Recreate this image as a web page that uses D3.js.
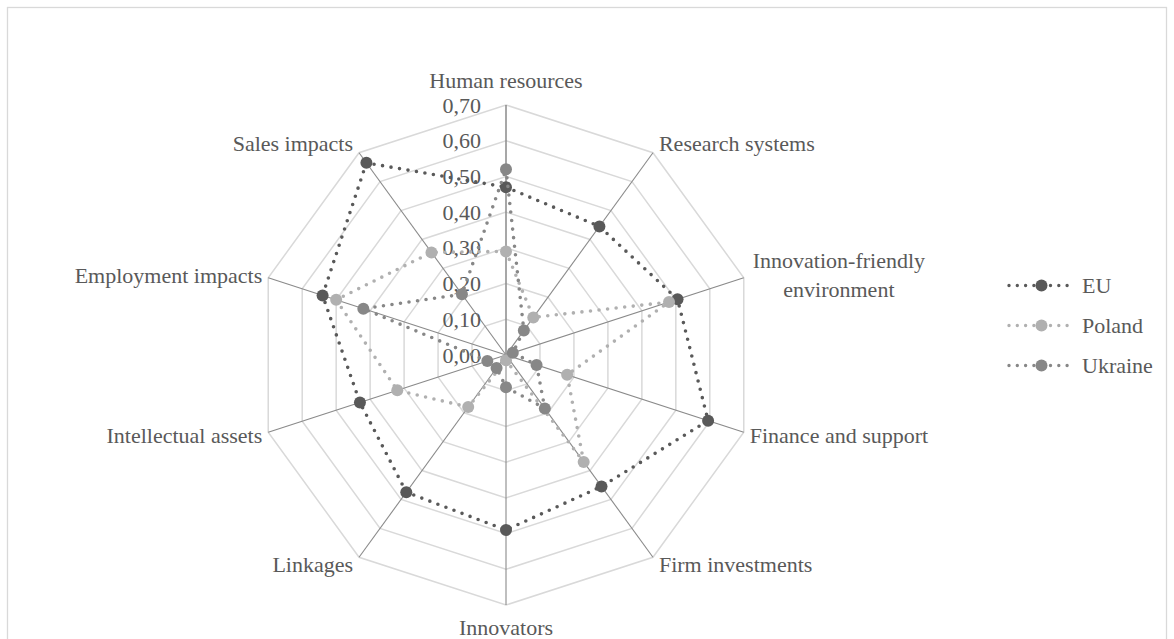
<!DOCTYPE html>
<html>
<head>
<meta charset="utf-8">
<script src="https://cdn.jsdelivr.net/npm/d3@7"></script>
<style>
  html, body { margin: 0; padding: 0; background: #fff; }
  svg { display: block; }
</style>
</head>
<body>
<svg id="chart" width="1174" height="639" font-family="'Liberation Serif', 'Times New Roman', 'DejaVu Serif', serif"></svg>
<script>
const categories = ["Human resources", "Research systems", "Innovation-friendly environment",
  "Finance and support", "Firm investments", "Innovators", "Linkages",
  "Intellectual assets", "Employment impacts", "Sales impacts"];
const seriesNames = ["EU", "Poland", "Ukraine"];
const euValues      = [0.47, 0.445, 0.505, 0.595, 0.455, 0.49, 0.475, 0.43, 0.54, 0.665];
const polandValues  = [0.29, 0.13, 0.48, 0.18, 0.37, 0.015, 0.18, 0.32, 0.50, 0.355];
const ukraineValues = [0.52, 0.085, 0.02, 0.09, 0.185, 0.09, 0.045, 0.055, 0.42, 0.21];
const tickValues = [0, 0.1, 0.2, 0.3, 0.4, 0.5, 0.6, 0.7];
const tickLabels = ["0,00", "0,10", "0,20", "0,30", "0,40", "0,50", "0,60", "0,70"];
const seriesColors = ["#595959", "#b0b0b0", "#878787"];

const series = [
  { name: seriesNames[0], values: euValues, color: seriesColors[0] },
  { name: seriesNames[1], values: polandValues, color: seriesColors[1] },
  { name: seriesNames[2], values: ukraineValues, color: seriesColors[2] }
];

const svg = d3.select("#chart");
const cx = 506, cy = 355, R = 250;
const fontSize = 22;
const textColor = "#595959";

// outer border
svg.append("rect").attr("x", 7.5).attr("y", 7.5).attr("width", 1159).attr("height", 650)
  .attr("fill", "none").attr("stroke", "#d9d9d9").attr("stroke-width", 1.3);

const r = d3.scaleLinear().domain([0, 0.7]).range([0, R]);
const angle = d3.scaleLinear().domain([0, categories.length]).range([0, 2 * Math.PI]);
const pt = (i, v) => [cx + r(v) * Math.sin(angle(i)), cy - r(v) * Math.cos(angle(i))];

const g = svg.append("g");

// grid rings
tickValues.filter(t => t > 0).forEach(t => {
  g.append("polygon")
    .attr("points", categories.map((c, i) => pt(i, t).join(",")).join(" "))
    .attr("fill", "none").attr("stroke", "#d9d9d9").attr("stroke-width", 1.5);
});

// spokes
categories.forEach((c, i) => {
  const [x, y] = pt(i, 0.7);
  g.append("line").attr("x1", cx).attr("y1", cy).attr("x2", x).attr("y2", y)
    .attr("stroke", "#8a8a8a").attr("stroke-width", i === 0 ? 1.5 : 1.1);
});

// tick labels
tickValues.forEach((t, k) => {
  g.append("text").attr("x", cx - 25).attr("y", cy - r(t) + 7.5)
    .attr("text-anchor", "end").attr("font-size", fontSize).attr("fill", textColor)
    .text(tickLabels[k]);
});

// category labels
categories.forEach((c, i) => {
  const a = angle(i);
  const [x, y] = pt(i, 0.7);
  const s = Math.sin(a), co = Math.cos(a);
  if (Math.abs(s) < 0.01) {
    g.append("text").attr("x", x).attr("y", co > 0 ? y - 17 : y + 30)
      .attr("text-anchor", "middle").attr("font-size", fontSize).attr("fill", textColor).text(c);
  } else if (c === "Innovation-friendly environment") {
    const lines = ["Innovation-friendly", "environment"];
    const t = g.append("text").attr("font-size", fontSize).attr("fill", textColor)
      .attr("text-anchor", "middle");
    const tmp = g.append("text").attr("font-size", fontSize).text(lines[0]);
    const w = tmp.node().getComputedTextLength(); tmp.remove();
    const mx = x + 9 + w / 2;
    lines.forEach((ln, j) => {
      t.append("tspan").attr("x", mx).attr("y", y - 9.5 + j * 29).text(ln);
    });
  } else {
    g.append("text")
      .attr("x", s > 0 ? x + 6 : x - 6)
      .attr("y", y + 6.5 - 10 * co + (Math.abs(co) < 0.5 ? 1.5 : 0))
      .attr("text-anchor", s > 0 ? "start" : "end")
      .attr("font-size", fontSize).attr("fill", textColor).text(c);
  }
});

// series
const line = d3.line().curve(d3.curveLinearClosed);
series.forEach(sr => {
  const pts = sr.values.map((v, i) => pt(i, v));
  const sg = g.append("g");
  sg.append("path").attr("d", line(pts)).attr("fill", "none")
    .attr("stroke", sr.color).attr("stroke-width", 3.6)
    .attr("stroke-linecap", "round").attr("stroke-dasharray", "0 8.6");
  sg.selectAll("circle").data(pts).join("circle")
    .attr("cx", d => d[0]).attr("cy", d => d[1]).attr("r", 6)
    .attr("fill", sr.color);
});

// legend
const lg = svg.append("g");
series.forEach((sr, k) => {
  const ly = 285.5 + k * 40;
  lg.append("line").attr("x1", 1009).attr("x2", 1073).attr("y1", ly).attr("y2", ly)
    .attr("stroke", sr.color).attr("stroke-width", 3.4)
    .attr("stroke-linecap", "round").attr("stroke-dasharray", "0 8.3");
  lg.append("circle").attr("cx", 1041.5).attr("cy", ly).attr("r", 6).attr("fill", sr.color);
  lg.append("text").attr("x", 1082).attr("y", ly + 7.5).attr("font-size", fontSize)
    .attr("fill", textColor).text(sr.name);
});
</script>
</body>
</html>
